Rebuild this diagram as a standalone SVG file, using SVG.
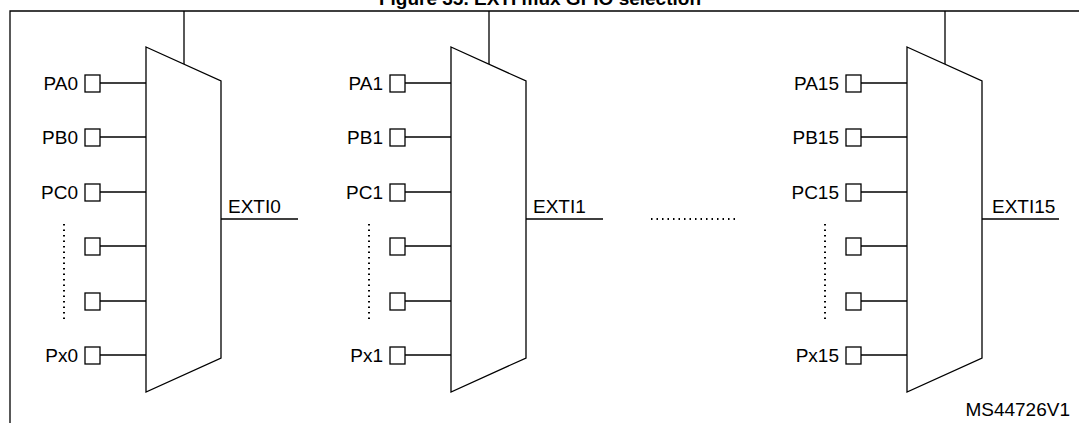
<svg xmlns="http://www.w3.org/2000/svg" width="1079" height="423" viewBox="0 0 1079 423">
<style>
.l{stroke:#000;stroke-width:1.3;fill:none}
.b{stroke:#000;stroke-width:1.3;fill:#fff}
.d{stroke:#000;stroke-width:2;stroke-dasharray:1.5 4;fill:none}
text{font-family:"Liberation Sans",Arial,sans-serif;font-size:19px;fill:#000}
.lb{text-anchor:end}
</style>
<rect width="1079" height="423" fill="#fff"/>
<text x="540" y="5" text-anchor="middle" font-weight="bold" font-size="19">Figure 35. EXTI mux GPIO selection</text>
<g id="frame"><path class="l" d="M10 423V11H1079" stroke-width="2"/></g>
<defs>
<g id="mux">
<path class="l" d="M0 47L75 81V358L0 392Z"/>
<path class="l" d="M38 11V64M75 219H152"/>
<g class="l">
<rect class="b" x="-61" y="75" width="15" height="17"/><path d="M-46 83H0"/>
<rect class="b" x="-61" y="129" width="15" height="17"/><path d="M-46 137H0"/>
<rect class="b" x="-61" y="184" width="15" height="17"/><path d="M-46 192H0"/>
<rect class="b" x="-61" y="238" width="15" height="17"/><path d="M-46 246H0"/>
<rect class="b" x="-61" y="293" width="15" height="17"/><path d="M-46 301H0"/>
<rect class="b" x="-61" y="347" width="15" height="17"/><path d="M-46 355H0"/>
</g>
<path class="d" d="M-82 224V323"/>
</g>
</defs>
<g id="mux0">
<use href="#mux" transform="translate(146 0)"/>
<text class="lb" x="78" y="90">PA0</text><text class="lb" x="78" y="144">PB0</text><text class="lb" x="78" y="199">PC0</text><text class="lb" x="78" y="362">Px0</text>
<text x="228" y="213">EXTI0</text>
</g>
<g id="mux1">
<use href="#mux" transform="translate(451 0)"/>
<text class="lb" x="383" y="90">PA1</text><text class="lb" x="383" y="144">PB1</text><text class="lb" x="383" y="199">PC1</text><text class="lb" x="383" y="362">Px1</text>
<text x="533" y="213">EXTI1</text>
</g>
<g id="mux15">
<use href="#mux" transform="translate(907 0)"/>
<text class="lb" x="839" y="90">PA15</text><text class="lb" x="839" y="144">PB15</text><text class="lb" x="839" y="199">PC15</text><text class="lb" x="839" y="362">Px15</text>
<text x="992" y="213">EXTI15</text>
</g>
<g id="connectors"><path class="d" d="M651 219H736"/></g>
<text x="1070" y="416" text-anchor="end" font-size="15">MS44726V1</text>
</svg>
